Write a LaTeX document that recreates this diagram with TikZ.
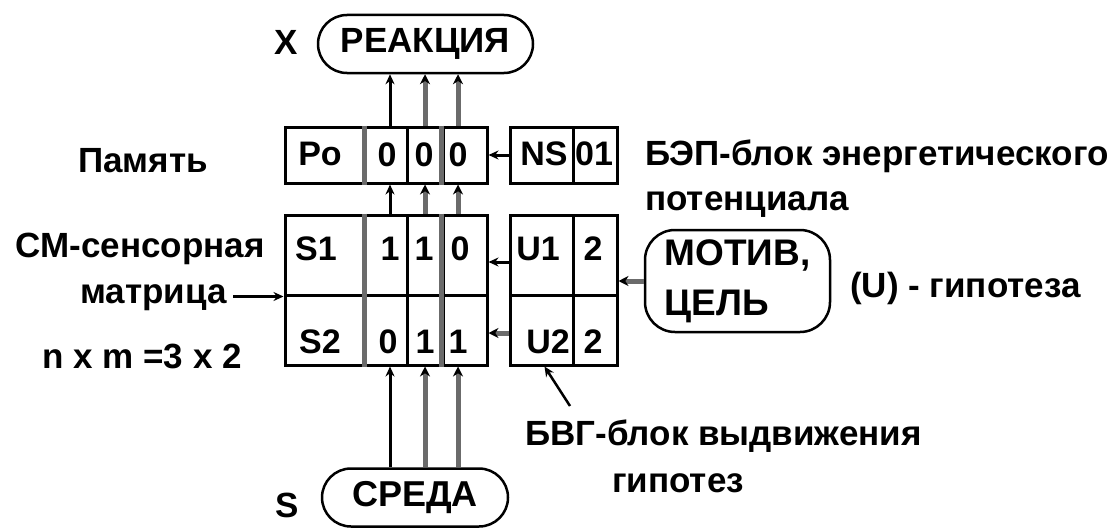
\documentclass[tikz,border=0pt]{standalone}
\usepackage{fontspec}
\setmainfont{Liberation Sans}
\usetikzlibrary{arrows.meta,calc}
\definecolor{pgray}{HTML}{6B6B6B}
\begin{document}
\begin{tikzpicture}[x=1pt,y=-1pt,
  lbl/.style={font=\fontsize{35}{40}\selectfont\bfseries, inner sep=0pt},
  clbl/.style={font=\fontsize{34}{40}\selectfont\bfseries, inner sep=0pt, anchor=base},
  cell/.style 2 args={draw, line width=3pt, inner sep=0pt, minimum width=#1, minimum height=#2},
  oval/.style={draw, line width=2.5pt, inner sep=0pt},
  gdiv/.style={draw=pgray, line width=5pt},
  arrb/.style={line width=3pt, -{Stealth[length=10pt,width=9pt]}},
  arrg/.style={draw=pgray, line width=5pt, -{Stealth[length=10pt,width=10pt,color=black]}},
]
\useasboundingbox (0,0) rectangle (1115,527);

% memory row
\node[cell={78}{56}] (po) at (324,155) {};
\node[cell={44}{56}] (m1) at (385,155) {};
\node[cell={36}{56}] (m2) at (425,155) {};
\node[cell={44}{56}] (m3) at (465,155) {};
\node[cell={63}{56}] (ns) at (541.5,155) {};
\node[cell={44}{56}] (nsv) at (595,155) {};
% matrix
\node[cell={78}{80}] (s1) at (324,255) {};
\node[cell={44}{80}] (a1) at (385,255) {};
\node[cell={36}{80}] (a2) at (425,255) {};
\node[cell={44}{80}] (a3) at (465,255) {};
\node[cell={78}{70}] (s2) at (324,330) {};
\node[cell={44}{70}] (b1) at (385,330) {};
\node[cell={36}{70}] (b2) at (425,330) {};
\node[cell={44}{70}] (b3) at (465,330) {};
% U block
\node[cell={63}{80}] (u1) at (541.5,255) {};
\node[cell={44}{80}] (u1v) at (595,255) {};
\node[cell={63}{70}] (u2) at (541.5,330) {};
\node[cell={44}{70}] (u2v) at (595,330) {};

% grey dividers
\draw[gdiv] (po.north east) -- (po.south east);
\draw[gdiv] (m3.north west) -- (m3.south west);
\draw[gdiv] (s1.north east) -- (s2.south east);
\draw[gdiv] (a3.north west) -- (b3.south west);

% cell labels
\node[clbl] (tpo) at (320,165) {Po};
\node[clbl] (tm1) at (387,166) {0};
\node[clbl] (tm2) at (424,166) {0};
\node[clbl] (tm3) at (458,166) {0};
\node[clbl] (tns) at (544,165) {NS};
\node[clbl] (tnsv) at (594,165) {01};
\node[clbl] (ts1) at (316,260) {S1};
\node[clbl] (ta1) at (390,260) {1};
\node[clbl] (ta2) at (424,260) {1};
\node[clbl] (ta3) at (460,260) {0};
\node[clbl] (tu1) at (538,260) {U1};
\node[clbl] (tu1v) at (593,260) {2};
\node[clbl] (ts2) at (320,353) {S2};
\node[clbl] (tb1) at (388,353) {0};
\node[clbl] (tb2) at (425,353) {1};
\node[clbl] (tb3) at (458,353) {1};
\node[clbl] (tu2) at (548,353) {U2};
\node[clbl] (tu2v) at (593,353) {2};

% ovals
\node[oval, minimum width=215, minimum height=58, rounded corners=29,
      font=\fontsize{35}{40}\selectfont\bfseries] (reak) at (425.5,44) {РЕАКЦИЯ};
\node[oval, minimum width=185, minimum height=102, rounded corners=30, align=left,
      font=\fontsize{37}{50}\selectfont\bfseries] (motiv) at (737.5,281) {МОТИВ,\\ЦЕЛЬ};
\node[oval, minimum width=186, minimum height=58, rounded corners=29,
      font=\fontsize{36}{40}\selectfont\bfseries] (sreda) at (415,497.5) {СРЕДА};

% free labels
\node[lbl, anchor=base] (x) at (286,55) {X};
\node[lbl, anchor=base] (pam) at (143,172) {Память};
\node[lbl, anchor=base] (sm) at (140,257) {СМ-сенсорная};
\node[lbl, anchor=base east] (matr) at (227,303) {матрица};
\node[lbl, anchor=base] (nm) at (142,368) {n x m =3 x 2};
\node[lbl, anchor=base west] (bep) at (645,165) {БЭП-блок энергетического};
\node[lbl, anchor=base west] (pot) at (645,210) {потенциала};
\node[lbl, anchor=base west] (hyp) at (850,297) {(U) - гипотеза};
\node[lbl, anchor=base west] (bvg) at (525,445) {БВГ-блок выдвижения};
\node[lbl, anchor=base] (gip) at (678,492) {гипотез};
\node[lbl, anchor=base] (s) at (287,517) {S};

% connectors
\coordinate (cA) at (390,0);
\coordinate (cB) at (425,0);
\coordinate (cC) at (458,0);
\coordinate (r1) at (0,262);
\coordinate (r2) at (0,333);
\coordinate (bvgc) at (570,406);

\draw[arrb] (cA |- m1.north) -- (cA |- reak.south);
\draw[arrg] (cB |- m2.north) -- (cB |- reak.south);
\draw[arrg] (cC |- m3.north) -- (cC |- reak.south);
\draw[arrb] (cA |- a1.north) -- (cA |- m1.south);
\draw[arrg] (cB |- a2.north) -- (cB |- m2.south);
\draw[arrg] (cC |- a3.north) -- (cC |- m3.south);
\draw[arrb] (cA |- sreda.north) -- (cA |- b1.south);
\draw[arrg] (cB |- sreda.north) -- (cB |- b2.south);
\draw[arrg] (cC |- sreda.north) -- (cC |- b3.south);

\draw[arrb] (ns.west) -- (m3.east);
\draw[arrb] (r1 -| u1.west) -- (r1 -| a3.east);
\draw[arrg] (r2 -| u2.west) -- (r2 -| b3.east);
\draw[arrg] (motiv.west) -- (motiv.west -| u1v.east);
\draw[arrb] ($(matr.east |- s1.south west)+(6,0)$) -- (s1.south west);
\draw[arrb, line width=2.5pt] (bvgc) -- ($(u2.south)+(3,0)$);
\end{tikzpicture}
\end{document}
